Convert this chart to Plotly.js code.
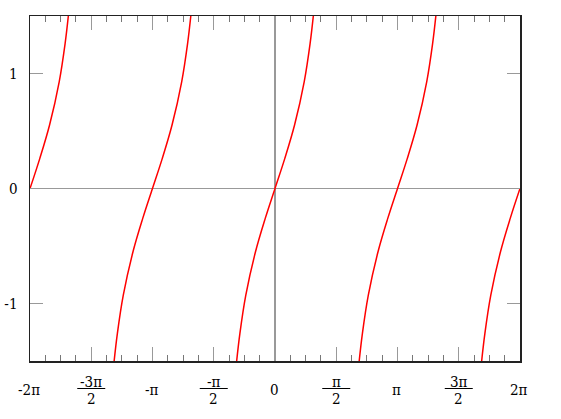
<!DOCTYPE html>
<html>
<head>
<meta charset="utf-8">
<script src="https://cdn.plot.ly/plotly-3.0.1.min.js"></script>
<style>html,body{margin:0;padding:0;background:#fff}#chart{width:561px;height:419px}</style>
</head>
<body>
<div id="chart"></div>
<script>
// tan(x) branches, values (null separates branches)
var xValues = [
  -6.283, -6.033, -5.783, -5.533, -5.383, -5.300, null,
  -4.125, -4.042, -3.892, -3.642, -3.392, -3.142, -2.892, -2.642, -2.392, -2.242, -2.159, null,
  -0.983, -0.900, -0.750, -0.500, -0.250, 0.000, 0.250, 0.500, 0.750, 0.900, 0.983, null,
  2.159, 2.242, 2.392, 2.642, 2.892, 3.142, 3.392, 3.642, 3.892, 4.042, 4.125, null,
  5.300, 5.383, 5.533, 5.783, 6.033, 6.283
];
var yValues = [
  0, 0.26, 0.55, 0.93, 1.26, 1.5, null,
  -1.5, -1.26, -0.93, -0.55, -0.26, 0, 0.26, 0.55, 0.93, 1.26, 1.5, null,
  -1.5, -1.26, -0.93, -0.55, -0.26, 0, 0.26, 0.55, 0.93, 1.26, 1.5, null,
  -1.5, -1.26, -0.93, -0.55, -0.26, 0, 0.26, 0.55, 0.93, 1.26, 1.5, null,
  -1.5, -1.26, -0.93, -0.55, -0.26, 0
];
var tickPositions = [-6.2832, -4.7124, -3.1416, -1.5708, 0, 1.5708, 3.1416, 4.7124, 6.2832];
var tickNumerators = ['-2π', '-3π', '-π', '-π', '0', 'π', 'π', '3π', '2π'];
var tickDenominators = ['', '2', '', '2', '', '2', '', '2', ''];
var yTickValues = [-1, 0, 1];
var yTickLabels = ['-1', '0', '1'];

var serif = 'DejaVu Serif Condensed, DejaVu Serif';
var fs = 15;
var annotations = [];
var shapes = [];
for (var i = 0; i < tickPositions.length; i++) {
  if (tickDenominators[i]) {
    annotations.push({x: tickPositions[i], xref: 'x', y: 0, yref: 'paper', yanchor: 'middle',
      yshift: -20.5, text: tickNumerators[i], showarrow: false, font: {family: serif, size: fs, color: '#000'}});
    annotations.push({x: tickPositions[i], xref: 'x', y: 0, yref: 'paper', yanchor: 'middle',
      yshift: -38, text: tickDenominators[i], showarrow: false, font: {family: serif, size: fs, color: '#000'}});
    shapes.push({type: 'line', xref: 'x', xsizemode: 'pixel', xanchor: tickPositions[i], x0: -14, x1: 14,
      yref: 'paper', ysizemode: 'pixel', yanchor: 0, y0: -27.5, y1: -27.5, line: {color: '#000', width: 1}});
  } else {
    annotations.push({x: tickPositions[i], xref: 'x', xshift: -1, y: 0, yref: 'paper', yanchor: 'middle',
      yshift: -29, text: tickNumerators[i], showarrow: false, font: {family: serif, size: fs, color: '#000'}});
  }
}

var trace = {x: xValues, y: yValues, type: 'scatter', mode: 'lines', connectgaps: false,
  line: {color: '#ff0000', width: 1.5, shape: 'spline'}, hoverinfo: 'skip'};

var layout = {
  width: 561, height: 419,
  margin: {l: 30, r: 41, t: 16, b: 58},
  paper_bgcolor: '#fff', plot_bgcolor: '#fff',
  showlegend: false,
  font: {family: serif},
  xaxis: {range: [-6.2832, 6.2832], tickmode: 'linear', tick0: -6.2832, dtick: 1.5708,
    ticks: 'inside', ticklen: 14, tickcolor: '#999', tickwidth: 1, showticklabels: false,
    showgrid: false, zeroline: true, zerolinecolor: '#999', zerolinewidth: 1.5,
    showline: true, linecolor: '#222', linewidth: 1.5, mirror: 'ticks',
    minor: {dtick: 0.3927, tick0: -6.2832, ticks: 'inside', ticklen: 6, tickcolor: '#777', tickwidth: 1, showgrid: false}},
  yaxis: {range: [-1.5, 1.5], tickmode: 'array', tickvals: yTickValues, ticktext: yTickLabels,
    ticks: 'inside', ticklen: 13, tickcolor: '#999', tickwidth: 1, ticklabelstandoff: 8,
    tickfont: {family: serif, size: fs, color: '#000'},
    showgrid: false, zeroline: true, zerolinecolor: '#999', zerolinewidth: 1.5,
    showline: true, linecolor: '#222', linewidth: 1.5, mirror: 'ticks'},
  annotations: annotations,
  shapes: shapes
};
Plotly.newPlot('chart', [trace], layout, {staticPlot: true, displayModeBar: false});
</script>
</body>
</html>
